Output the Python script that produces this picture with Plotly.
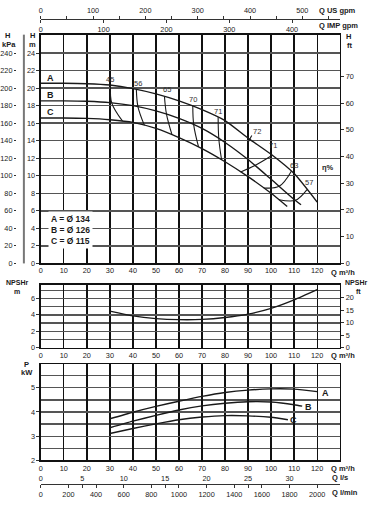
import numpy as np
import plotly.graph_objects as go

W, H = 374, 515

# ---------------- data ----------------
# Head curves, Q in m3/h, H in m
Q_A = [0, 10, 20, 30, 40, 50, 60, 70, 80, 90, 100, 110, 120]
H_A = [20.55, 20.55, 20.5, 20.35, 19.95, 19.35, 18.55, 17.55, 16.3, 14.3, 12.45, 10.25, 7.0]
Q_B = [0, 10, 20, 30, 40, 50, 60, 70, 80, 90, 100, 110, 113]
H_B = [18.55, 18.55, 18.5, 18.35, 18.0, 17.4, 16.55, 15.4, 13.8, 11.85, 9.6, 7.3, 6.7]
Q_C = [0, 10, 20, 30, 40, 50, 60, 70, 80, 90, 100, 107]
H_C = [16.6, 16.6, 16.55, 16.4, 16.1, 15.4, 14.35, 13.1, 11.6, 9.9, 8.0, 6.5]

# Iso-efficiency lines: flow where each line meets curves A, B, C
ETA_LABELS = ["45", "56", "65", "70", "71", "71", "63", "57"]
ISO_Q_A = [30.3, 41.5, 53.7, 66.0, 77.0, 100.5, 108.8, 115.6]
ISO_Q_B = [30.8, 42.2, 54.6, 66.4, 77.3, 93.0, 103.5, 110.5]
ISO_Q_C = [35.5, 45.0, 57.0, 68.5, 78.5, 86.8, 96.8, 103.4]
ETA_LABEL_Q = [30.0, 42.2, 54.7, 66.2, 77.0, 100.8, 109.9, 116.6]
ETA_LABEL_H = [21.0, 20.55, 19.8, 18.7, 17.3, 13.4, 11.15, 9.27]
# best efficiency mark (72 %)
BEP_Q = [89.8, 91.6]
BEP_H = [13.7, 14.6]
BEP_LABEL = "72"
BEP_LABEL_Q, BEP_LABEL_H = 94.0, 15.0

# NPSHr
Q_NPSH = [30, 40, 50, 60, 70, 80, 90, 100, 110, 120]
NPSH = [4.46, 3.88, 3.55, 3.42, 3.45, 3.68, 4.1, 4.8, 5.85, 7.1]

# Power (kW)
Q_PA = [30, 40, 50, 60, 70, 80, 90, 100, 110, 120]
P_A = [3.72, 3.99, 4.23, 4.44, 4.64, 4.8, 4.9, 4.95, 4.94, 4.84]
Q_PB = [30, 40, 50, 60, 70, 80, 90, 100, 110, 113.5]
P_B = [3.35, 3.62, 3.86, 4.08, 4.25, 4.36, 4.42, 4.41, 4.3, 4.24]
Q_PC = [30, 40, 50, 60, 70, 80, 90, 100, 107.3]
P_C = [3.11, 3.32, 3.51, 3.68, 3.79, 3.85, 3.84, 3.78, 3.68]

# Tick labels
Q_TICKS = list(range(0, 130, 10))
H_M_TICKS = list(range(0, 26, 2))
H_KPA_TICKS = list(range(0, 260, 20))
H_FT_TICKS = list(range(0, 80, 10))
NPSH_M_TICKS = [0, 2, 4, 6]
NPSH_FT_TICKS = [0, 5, 10, 15, 20]
P_TICKS = [2, 3, 4, 5]
US_GPM_TICKS = [0, 100, 200, 300, 400, 500]
IMP_GPM_TICKS = [0, 100, 200, 300, 400]
LS_TICKS = [0, 5, 10, 15, 20, 25, 30]
LMIN_TICKS = list(range(0, 2200, 200))
CURVE_NAMES = ["A", "B", "C"]
DIAMETERS = ["134", "126", "115"]

# ---------------- helpers ----------------
def px(x):
    return x / W

def py(y):
    return 1 - y / H

Q_MAX = 130
FT = 3.28084
US = 4.40287
IMP = 3.66615

FONT = "Liberation Sans, Arial, sans-serif"
INK = "#1a1a1a"
XDOM = [px(39), px(340)]
MAIN_DOM = [py(266), py(35)]
NPSH_DOM = [py(351), py(287.5)]
P_DOM = [py(465), py(368)]
H_MAX = 231 / 8.85
NPSH_MAX = 7.7
P_RANGE = [2, 2 + 97 / 24.5]

fig = go.Figure()
curve_line = dict(color=INK, width=1.4, shape="spline", smoothing=0.6)

# main head curves
for q, h in [(Q_A, H_A), (Q_B, H_B), (Q_C, H_C)]:
    fig.add_trace(go.Scatter(x=q, y=h, mode="lines", line=curve_line, xaxis="x", yaxis="y"))

# iso efficiency lines
for qa, qb, qc in zip(ISO_Q_A, ISO_Q_B, ISO_Q_C):
    xs = [qa, qb, qc]
    ys = [float(np.interp(qa, Q_A, H_A)), float(np.interp(qb, Q_B, H_B)), float(np.interp(qc, Q_C, H_C))]
    fig.add_trace(go.Scatter(x=xs, y=ys, mode="lines",
                             line=dict(color=INK, width=1.1, shape="spline", smoothing=1.0),
                             xaxis="x", yaxis="y"))
fig.add_trace(go.Scatter(x=BEP_Q, y=BEP_H, mode="lines", line=dict(color=INK, width=1.1),
                         xaxis="x", yaxis="y"))

# NPSH
fig.add_trace(go.Scatter(x=Q_NPSH, y=NPSH, mode="lines", line=curve_line, xaxis="x2", yaxis="y4"))

# Power
for q, p in [(Q_PA, P_A), (Q_PB, P_B), (Q_PC, P_C)]:
    fig.add_trace(go.Scatter(x=q, y=p, mode="lines", line=curve_line, xaxis="x3", yaxis="y6"))

# dummy traces to activate overlaying axes
for xa, ya in [("x", "y2"), ("x", "y3"), ("x2", "y5"), ("x4", "y"), ("x5", "y"), ("x6", "y6"), ("x7", "y6")]:
    fig.add_trace(go.Scatter(x=[None], y=[None], xaxis=xa, yaxis=ya, mode="lines"))

tickfont = dict(family=FONT, size=7.3, color=INK)

def qaxis(anchor):
    return dict(domain=XDOM, range=[0, Q_MAX], anchor=anchor, tickvals=Q_TICKS,
                showgrid=True, gridcolor="#111", gridwidth=1.3, zeroline=False,
                showline=True, mirror=True, linecolor="#111", linewidth=1.3,
                ticks="", tickfont=tickfont, fixedrange=True)

hgrid = dict(showgrid=True, gridcolor="#555", gridwidth=1.4, zeroline=False,
             showline=True, mirror=True, linecolor="#111", linewidth=1.3,
             ticks="outside", ticklen=3, tickcolor="#333", tickfont=tickfont)

free_line = dict(showgrid=False, zeroline=False, showline=True, linecolor="#333", linewidth=1.2,
                 tickcolor="#333", tickfont=tickfont, ticklen=3)

layout = dict(
    width=W, height=H, autosize=False,
    margin=dict(l=0, r=0, t=0, b=0),
    paper_bgcolor="white", plot_bgcolor="white",
    showlegend=False,
    font=dict(family=FONT, size=8, color=INK),
    xaxis=qaxis("y"),
    xaxis2=qaxis("y4"),
    xaxis3=qaxis("y6"),
    yaxis=dict(domain=MAIN_DOM, range=[0, H_MAX], anchor="x", tickvals=H_M_TICKS, **hgrid),
    yaxis2=dict(overlaying="y", anchor="free", position=px(14), side="left",
                range=[0, H_MAX * 10], tickvals=H_KPA_TICKS, showgrid=False, zeroline=False,
                showline=False, ticks="outside", ticklen=2, tickcolor="#333", tickfont=tickfont),
    yaxis3=dict(overlaying="y", anchor="x", side="right", range=[0, H_MAX * FT],
                tickvals=H_FT_TICKS, showgrid=False, zeroline=False, showline=False,
                ticks="outside", ticklen=3, tickcolor="#333", tickfont=tickfont),
    yaxis4=dict(domain=NPSH_DOM, range=[0, NPSH_MAX], anchor="x2", tickvals=NPSH_M_TICKS,
                minor=dict(tickvals=[1, 3, 5, 7], showgrid=True, gridcolor="#555", gridwidth=1.4, ticks=""),
                **hgrid),
    yaxis5=dict(overlaying="y4", anchor="x2", side="right", range=[0, NPSH_MAX * FT],
                tickvals=NPSH_FT_TICKS, showgrid=False, zeroline=False, showline=False,
                ticks="outside", ticklen=3, tickcolor="#333", tickfont=tickfont),
    yaxis6=dict(domain=P_DOM, range=P_RANGE, anchor="x3", tickvals=P_TICKS,
                minor=dict(tickvals=[2.5, 3.5, 4.5, 5.5], showgrid=True, gridcolor="#555", gridwidth=1.4, ticks=""),
                **hgrid),
    xaxis4=dict(overlaying="x", anchor="free", position=py(19), side="top",
                range=[0, Q_MAX * US], tickvals=US_GPM_TICKS, ticks="outside",
                minor=dict(tickvals=[50, 150, 250, 350, 450, 550], ticks="outside", ticklen=3, tickcolor="#333"),
                **free_line),
    xaxis5=dict(overlaying="x", anchor="free", position=py(19), side="bottom",
                range=[0, Q_MAX * IMP], tickvals=IMP_GPM_TICKS, ticks="outside", **free_line),
    xaxis6=dict(overlaying="x3", anchor="free", position=py(489), side="top",
                range=[0, Q_MAX / 3.6], tickvals=LS_TICKS, ticks="inside", **free_line),
    xaxis7=dict(overlaying="x3", anchor="free", position=py(489), side="bottom",
                range=[0, Q_MAX * 1000 / 60], tickvals=LMIN_TICKS, ticks="outside", **free_line),
)
fig.update_layout(**layout)

# kPa axis line
fig.add_shape(type="line", xref="paper", yref="paper", x0=px(22), x1=px(22),
              y0=py(266), y1=py(35), line=dict(color="#777", width=2))

anns = []

def ann(text, x, y, size=7.5, bold=False, xanchor="center", **kw):
    t = f"<b>{text}</b>" if bold else text
    anns.append(dict(text=t, x=px(x), y=py(y), xref="paper", yref="paper", showarrow=False,
                     xanchor=xanchor, yanchor="middle", font=dict(family=FONT, size=size, color=INK), **kw))

# axis titles
ann("H", 6, 36, bold=True)
ann("kPa", 7, 45, bold=True)
ann("H", 31, 36, bold=True)
ann("m", 31, 45, bold=True)
ann("H", 348, 37, bold=True)
ann("ft", 349, 46, bold=True)
ann("Q US gpm", 317, 11, bold=True, xanchor="left")
ann("Q IMP gpm", 317, 26, bold=True, xanchor="left")
ann("Q m³/h", 329, 275, bold=True, xanchor="left")
ann("NPSHr", 15, 285, size=7, bold=True)
ann("m", 15, 294, size=7, bold=True)
ann("NPSHr", 356, 285, size=7, bold=True)
ann("ft", 358, 294, size=7, bold=True)
ann("Q m³/h", 329, 359, bold=True, xanchor="left")
ann("P", 25, 368, bold=True)
ann("kW", 25, 376, bold=True)
ann("Q m³/h", 329, 473, bold=True, xanchor="left")
ann("Q l/s", 330, 482, bold=True, xanchor="left")
ann("Q l/min", 330, 497, bold=True, xanchor="left")
ann("η%", 328, 169, bold=True)

# diameter legend
legend_text = "<br>".join(f"<b>{n} = Ø {d}</b>" for n, d in zip(CURVE_NAMES, DIAMETERS))
anns.append(dict(text=legend_text, x=px(46), y=py(232.3), xref="paper", yref="paper",
                 showarrow=False, xanchor="left", yanchor="middle", align="left",
                 bgcolor="white", borderpad=2,
                 font=dict(family=FONT, size=8.5, color=INK)))

# curve labels main
for name, yy in zip(CURVE_NAMES, [78.3, 96, 112.7]):
    ann(name, 48.3, yy, size=9, bold=True)

# power curve labels
for name, q, p in zip(CURVE_NAMES, [123.5, 116.3, 109.8], [4.8, 4.2, 3.66]):
    anns.append(dict(text=f"<b>{name}</b>", x=q, y=p, xref="x3", yref="y6", showarrow=False,
                     font=dict(family=FONT, size=9, color=INK)))

# efficiency labels
for lab, q, h in zip(ETA_LABELS, ETA_LABEL_Q, ETA_LABEL_H):
    anns.append(dict(text=lab, x=q, y=h, xref="x", yref="y", showarrow=False,
                     font=dict(family=FONT, size=7.5, color="#333")))
anns.append(dict(text=BEP_LABEL, x=BEP_LABEL_Q, y=BEP_LABEL_H, xref="x", yref="y", showarrow=False,
                 font=dict(family=FONT, size=7.5, color="#333")))

fig.update_layout(annotations=anns)
fig.write_html("out.html", config={"displayModeBar": False, "staticPlot": True},
               post_script="document.body.style.margin='0px';")
